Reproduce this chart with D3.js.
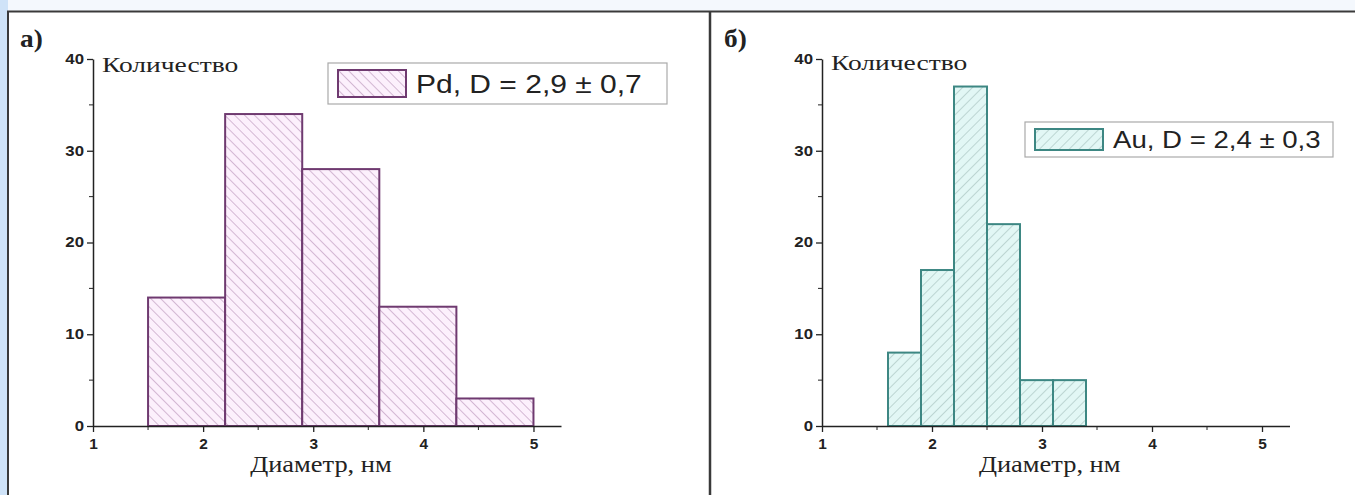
<!DOCTYPE html>
<html><head><meta charset="utf-8">
<script src="https://cdn.jsdelivr.net/npm/d3@7"></script>
<style>body{margin:0;background:#fff}svg{display:block}</style>
</head><body>
<script>
// ---- data ----
const pdBinStarts = [1.5, 2.2, 2.9, 3.6, 4.3];
const pdBinWidth = 0.7;
const pdCounts = [14, 34, 28, 13, 3];
const auBinStarts = [1.6, 1.9, 2.2, 2.5, 2.8, 3.1];
const auBinWidth = 0.3;
const auCounts = [8, 17, 37, 22, 5, 5];
const xTicks = [1, 2, 3, 4, 5];
const xMinorTicks = [1.5, 2.5, 3.5, 4.5];
const yTicks = [0, 10, 20, 30, 40];
const yMinorTicks = [5, 15, 25, 35];
const panelLabels = ["а)", "б)"];
const legendLabels = ["Pd, D = 2,9 ± 0,7", "Au, D = 2,4 ± 0,3"];
const yTitle = "Количество";
const xTitle = "Диаметр, нм";

const W = 1355, H = 495, SX = 1.2;
const SERIF = "Liberation Serif, Times New Roman, serif";
const SANS = "Liberation Sans, Arial, sans-serif";
const svg = d3.select("body").append("svg").attr("width", W).attr("height", H);
const defs = svg.append("defs");

function hatch(id, bg, line, angle) {
  const p = defs.append("pattern").attr("id", id).attr("patternUnits", "userSpaceOnUse")
    .attr("width", 7).attr("height", 7).attr("patternTransform", `rotate(${angle})`);
  p.append("rect").attr("width", 7).attr("height", 7).attr("fill", bg);
  p.append("line").attr("x1", 0).attr("y1", 0).attr("x2", 0).attr("y2", 7)
    .attr("stroke", line).attr("stroke-width", 1.6);
}
hatch("hPd", "#fcf0fc", "#c9a9c9", -45);
hatch("hAu", "#e2f7f5", "#b3cdca", 45);

function stext(parent, x, y, str, opts) {
  const t = parent.append("text")
    .attr("transform", `translate(${x},${y}) scale(${opts.sx || SX},1)`)
    .attr("font-family", opts.family).attr("font-size", opts.size)
    .attr("fill", "#222").text(str);
  if (opts.weight) t.attr("font-weight", opts.weight);
  if (opts.anchor) t.attr("text-anchor", opts.anchor);
  if (opts.dy) t.attr("dy", opts.dy);
  return t;
}

// background frame
svg.append("rect").attr("width", W).attr("height", H).attr("fill", "#fff");
svg.append("rect").attr("x", 0).attr("y", 0).attr("width", W).attr("height", 11).attr("fill", "#f4f8fd");
svg.append("rect").attr("x", 0).attr("y", 0).attr("width", 8).attr("height", H).attr("fill", "#cfe3f8");
svg.append("line").attr("x1", 7).attr("x2", W).attr("y1", 11.5).attr("y2", 11.5).attr("stroke", "#3a3a3a").attr("stroke-width", 2);
svg.append("line").attr("x1", 8).attr("x2", 8).attr("y1", 11).attr("y2", H).attr("stroke", "#3a3a3a").attr("stroke-width", 2);
svg.append("line").attr("x1", 710).attr("x2", 710).attr("y1", 11).attr("y2", H).attr("stroke", "#3a3a3a").attr("stroke-width", 2.5);

const panels = [
  {x0: 93, x1: 561, starts: pdBinStarts, w: pdBinWidth, counts: pdCounts, pat: "hPd", stroke: "#6f3a70",
   label: panelLabels[0], lx: 20, ty: 72, legend: legendLabels[0], lg: {x: 328, y: 63, w: 339, h: 41, fs: 25}},
  {x0: 822, x1: 1289.5, starts: auBinStarts, w: auBinWidth, counts: auCounts, pat: "hAu", stroke: "#3d8783",
   label: panelLabels[1], lx: 724, ty: 70, legend: legendLabels[1], lg: {x: 1025, y: 122, w: 308, h: 35, fs: 23}}
];

panels.forEach(p => {
  const g = svg.append("g");
  const x = d3.scaleLinear().domain([1, 5.25]).range([p.x0, p.x1]);
  const y = d3.scaleLinear().domain([0, 40]).range([426, 59]);

  g.selectAll("rect.bar").data(p.counts).join("rect").attr("class", "bar")
    .attr("x", (d, i) => x(p.starts[i]))
    .attr("width", (d, i) => x(p.starts[i] + p.w) - x(p.starts[i]))
    .attr("y", d => y(d)).attr("height", d => y(0) - y(d))
    .attr("fill", `url(#${p.pat})`).attr("stroke", p.stroke).attr("stroke-width", 2);

  // x axis
  const xa = g.append("g").attr("transform", "translate(0,426)")
    .call(d3.axisBottom(x).tickValues(xTicks).tickSize(6).tickSizeOuter(0).tickPadding(7).tickFormat(d3.format("d")));
  xa.append("g").selectAll("line").data(xMinorTicks).join("line")
    .attr("x1", d => x(d)).attr("x2", d => x(d)).attr("y1", 0).attr("y2", 4).attr("stroke", "#222");
  // y axis
  const ya = g.append("g").attr("transform", `translate(${p.x0},0)`)
    .call(d3.axisLeft(y).tickValues(yTicks).tickSize(6).tickSizeOuter(0).tickPadding(6));
  ya.append("g").selectAll("line").data(yMinorTicks).join("line")
    .attr("y1", d => y(d)).attr("y2", d => y(d)).attr("x1", 0).attr("x2", -4).attr("stroke", "#222");
  [xa, ya].forEach(a => {
    a.attr("font-size", 14);
    a.selectAll("path.domain").attr("stroke", "#222").attr("stroke-width", 1.5);
    a.selectAll(".tick line").attr("stroke", "#222").attr("stroke-width", 1.3);
    a.selectAll("text").attr("font-family", SANS)
      .attr("font-weight", "bold").attr("font-size", 14).attr("fill", "#222");
  });
  xa.selectAll(".tick text").attr("transform", "scale(1.1,1)").attr("x", 0);
  ya.selectAll(".tick text").attr("transform", "translate(-9,0) scale(1.2,1)").attr("x", 0)
    .attr("text-anchor", "end");

  stext(g, p.x0 + 9, p.ty, yTitle, {family: SERIF, size: 22, sx: 1.25});
  stext(g, x(3.07), 472, xTitle, {family: SERIF, size: 23, sx: 1.15, anchor: "middle"});
  stext(g, p.lx, 47, p.label, {family: SERIF, size: 26, weight: "bold", sx: 1.05});

  // legend
  const L = p.lg;
  g.append("rect").attr("x", L.x).attr("y", L.y).attr("width", L.w).attr("height", L.h)
    .attr("fill", "#fff").attr("stroke", "#aaa").attr("stroke-width", 1.2);
  g.append("rect").attr("x", L.x + 10).attr("y", L.y + 7).attr("width", 68).attr("height", L.h - 14)
    .attr("fill", `url(#${p.pat})`).attr("stroke", p.stroke).attr("stroke-width", 2);
  stext(g, L.x + 88, L.y + L.h / 2, p.legend, {family: SANS, size: L.fs, sx: 1.2, dy: "0.36em"});
});
</script>
</body></html>
